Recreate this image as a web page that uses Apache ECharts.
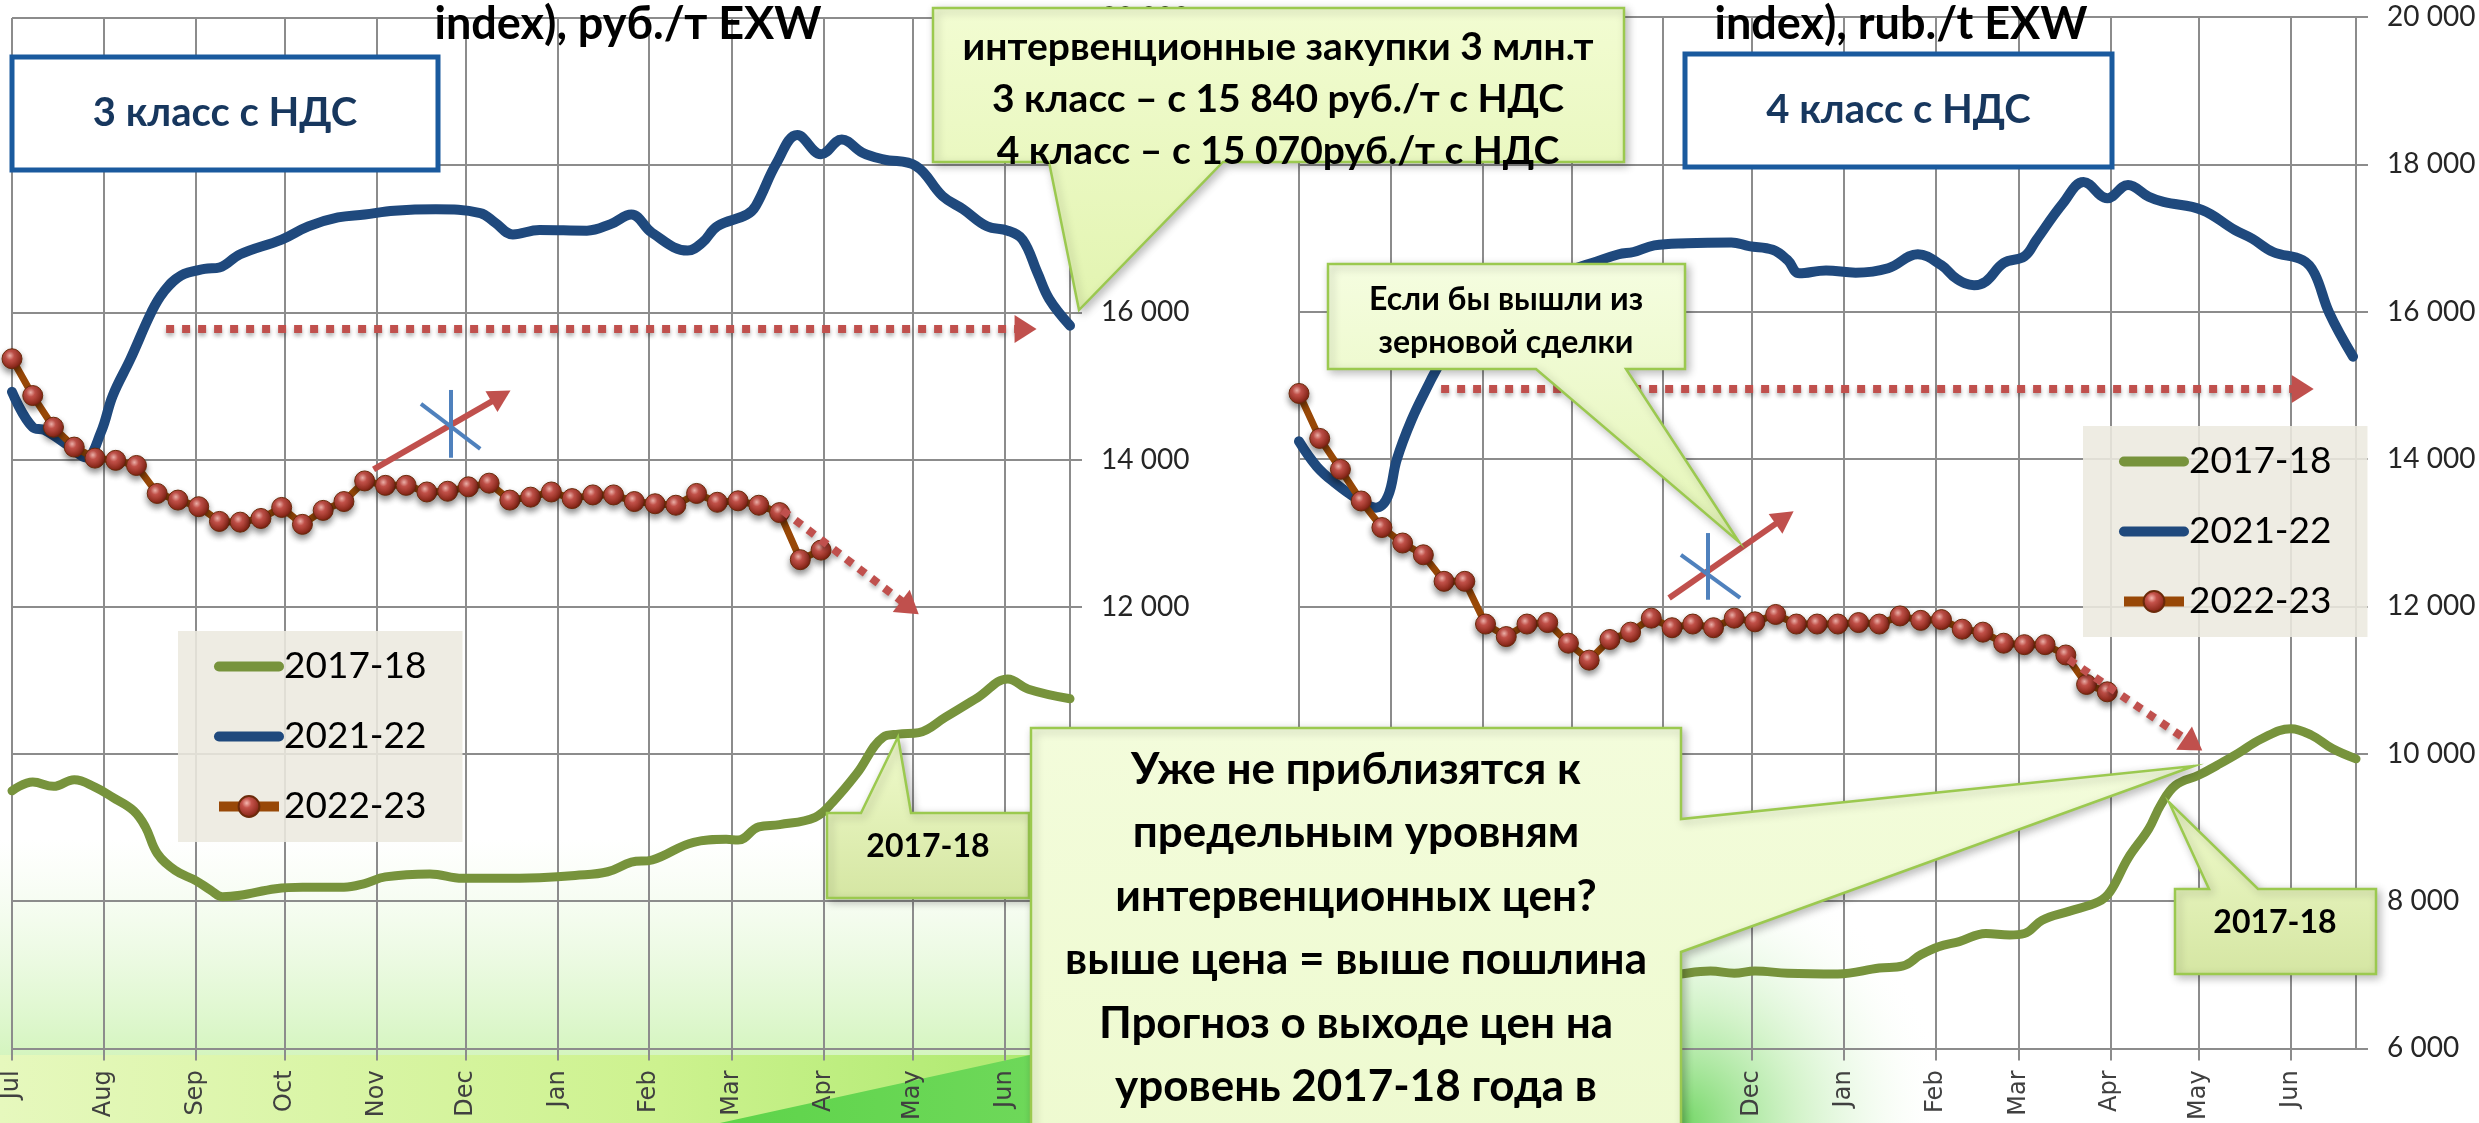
<!DOCTYPE html>
<html>
<head>
<meta charset="utf-8">
<script src="https://cdn.jsdelivr.net/npm/echarts@6/dist/echarts.min.js"></script>
<style>
html, body { margin: 0; padding: 0; background: #fff; }
#main { width: 2479px; height: 1123px; }
</style>
</head>
<body>
<div id="main"></div>
<script>
// дни сезона: 1 июля 2022 - 23 июня 2023
var days = [];
(function () {
    var t0 = Date.UTC(2022, 6, 1);
    for (var i = 0; i < 358; i++) {
        days.push(new Date(t0 + i * 86400000).toISOString().slice(0, 10));
    }
})();
var monthLabels = ['Jan', 'Feb', 'Mar', 'Apr', 'May', 'Jun', 'Jul', 'Aug', 'Sep', 'Oct', 'Nov', 'Dec'];

// 3 класс: [день сезона, руб./т]
var green3 = [[0,9500],[7,9620],[14,9560],[21,9650],[28,9550],[34,9410],[41,9230],[45,9010],[49,8650],[55,8420],[62,8280],[67,8150],[71,8060],[77,8080],[89,8170],[98,8190],[112,8190],[119,8240],[126,8330],[141,8370],[152,8310],[164,8310],[178,8320],[190,8350],[201,8400],[209,8530],[216,8560],[230,8800],[241,8840],[245,8830],[252,9010],[259,9040],[271,9140],[277,9350],[285,9730],[294,10230],[299,10270],[306,10290],[315,10500],[326,10770],[336,11020],[343,10880],[357,10750]];
var blue3 = [[0,14920],[7,14440],[11,14400],[19,14190],[25,14030],[30,14370],[34,14870],[40,15370],[47,16000],[51,16270],[57,16500],[65,16590],[70,16610],[77,16790],[91,16990],[100,17170],[110,17290],[119,17330],[129,17380],[143,17400],[158,17350],[163,17220],[169,17060],[178,17120],[194,17110],[202,17200],[209,17330],[216,17080],[228,16840],[233,16950],[238,17170],[248,17330],[251,17450],[258,18030],[265,18410],[273,18150],[280,18350],[287,18170],[294,18080],[305,17990],[314,17580],[321,17400],[329,17170],[336,17110],[341,16990],[346,16540],[350,16180],[357,15820]];
// 2022-23 - еженедельно с 1 июля
var brown3 = [15370,14870,14440,14170,14020,13990,13920,13540,13450,13360,13160,13150,13200,13350,13120,13310,13430,13710,13650,13650,13560,13570,13630,13680,13450,13490,13560,13470,13520,13520,13430,13400,13380,13540,13420,13440,13380,13280,12640,12770];

// 4 класс
var green4 = [[0,8250],[7,8350],[14,8300],[21,8380],[28,8280],[34,8150],[41,7980],[45,7760],[49,7420],[55,7180],[62,7040],[67,6920],[71,6850],[77,6870],[89,6940],[98,6960],[112,6950],[119,6970],[127,7000],[139,7050],[147,7020],[154,7050],[165,7020],[182,7010],[196,7090],[204,7120],[210,7270],[216,7380],[223,7450],[232,7560],[240,7540],[245,7560],[251,7740],[260,7860],[270,7990],[274,8130],[280,8580],[287,8980],[291,9300],[296,9570],[304,9710],[310,9840],[317,10000],[325,10200],[335,10340],[342,10250],[349,10070],[357,9930]];
var blue4 = [[0,14240],[6,13900],[12,13680],[20,13450],[26,13340],[30,13490],[33,13990],[38,14530],[44,15030],[47,15260],[54,15800],[60,16050],[67,16200],[77,16350],[88,16520],[99,16660],[108,16780],[113,16810],[120,16900],[131,16930],[146,16940],[152,16890],[160,16840],[165,16700],[169,16520],[178,16560],[188,16530],[199,16590],[209,16780],[217,16630],[222,16450],[228,16360],[232,16410],[238,16660],[245,16750],[249,16970],[258,17470],[265,17760],[273,17540],[280,17720],[287,17560],[292,17490],[305,17380],[316,17110],[322,16990],[329,16810],[339,16700],[343,16520],[348,15980],[356,15390]];
var brown4 = [14890,14280,13860,13430,13070,12860,12700,12340,12340,11760,11590,11760,11780,11500,11270,11550,11650,11840,11710,11760,11710,11840,11790,11890,11760,11760,11760,11780,11760,11870,11810,11820,11690,11650,11500,11480,11480,11340,10940,10840];

var seriesNames = ['2017-18', '2021-22', '2022-23'];
var colGreen = '#77933c', colBlue = '#1f497d', colBrown = '#984807', colRed = '#c0504d', colX = '#4f81bd';

function fmtThousands(v) {
    return String(v).replace(/\B(?=(\d{3})+(?!\d))/g, ' ');
}
function isMonthStart(i, v) {
    return v.slice(8) === '01';
}

var sphere = {
    type: 'radial', x: 0.4, y: 0.35, r: 0.7,
    colorStops: [
        {offset: 0, color: '#f6b8b0'},
        {offset: 0.3, color: '#c4524a'},
        {offset: 0.8, color: '#8e2a1c'},
        {offset: 1, color: '#5e1a0c'}
    ]
};

function smoothLine(name, data, gi, color, width) {
    return {
        name: name, type: 'line', xAxisIndex: gi, yAxisIndex: gi,
        data: data, smooth: 0.4, symbol: 'none',
        lineStyle: {color: color, width: width, cap: 'round', join: 'round'},
        itemStyle: {color: color},
        z: 3
    };
}

function arrowLines(a) {
    // горизонтальная и диагональная пунктирные, сплошная стрелка, перечеркивание
    var solid = {type: 'solid', width: 6, color: colRed, shadowBlur: 0, shadowOffsetY: 0};
    var cross = {type: 'solid', width: 4, color: colX, shadowBlur: 0, shadowOffsetY: 0};
    return {
        silent: true,
        symbol: ['none', 'triangle'],
        symbolSize: [28, 22],
        label: {show: false},
        emphasis: {disabled: true},
        itemStyle: {color: colRed},
        lineStyle: {color: colRed, width: 8, type: [8, 8], shadowBlur: 4, shadowColor: 'rgba(0,0,0,0.3)', shadowOffsetY: 3},
        data: [
            [{coord: a.h[0]}, {coord: a.h[1]}],
            [{coord: a.d[0]}, {coord: a.d[1]}],
            [{coord: a.s[0], lineStyle: solid}, {coord: a.s[1], symbolSize: [24, 22]}],
            [{coord: a.xv[0], lineStyle: cross}, {coord: a.xv[1], symbol: 'none'}],
            [{coord: a.xd[0], lineStyle: cross}, {coord: a.xd[1], symbol: 'none'}]
        ]
    };
}

function beadLine(name, weekly, gi, arrows) {
    return {
        name: name, type: 'line', xAxisIndex: gi, yAxisIndex: gi,
        data: weekly.map(function (v, i) { return [i * 7, v]; }),
        symbol: 'circle', symbolSize: 20, showSymbol: true, showAllSymbol: true,
        lineStyle: {color: colBrown, width: 7},
        itemStyle: {color: sphere, borderColor: '#6b2a0a', borderWidth: 1, shadowBlur: 6, shadowColor: 'rgba(0,0,0,0.45)', shadowOffsetY: 4},
        markLine: arrowLines(arrows),
        z: 4
    };
}

function xAxisFor(gi) {
    return {
        type: 'category', gridIndex: gi, data: days, boundaryGap: false,
        axisLine: {show: true, lineStyle: {color: '#8c8c8c', width: 2}},
        axisTick: {show: true, interval: isMonthStart, length: 12, lineStyle: {color: '#8c8c8c', width: 2}},
        splitLine: {show: true, interval: isMonthStart, lineStyle: {color: '#8c8c8c', width: 2}},
        axisLabel: {
            interval: isMonthStart, rotate: 90, margin: 22,
            fontFamily: 'DejaVu Sans', fontSize: 24, color: '#404040',
            formatter: function (v) { return monthLabels[+v.slice(5, 7) - 1]; }
        }
    };
}
function yAxisFor(gi) {
    return {
        type: 'value', gridIndex: gi, position: 'right',
        min: 6000, max: 20000, interval: 2000,
        axisLine: {show: true, lineStyle: {color: '#8c8c8c', width: 2}},
        axisTick: {show: true, length: 12, lineStyle: {color: '#8c8c8c', width: 2}},
        splitLine: {show: true, lineStyle: {color: '#8c8c8c', width: 2}},
        axisLabel: {margin: 31, fontFamily: 'Lato', fontSize: 28, color: '#262626', formatter: fmtThousands}
    };
}

function legendAt(left, top) {
    return {
        orient: 'vertical', left: left, top: top,
        padding: [17, 36, 17, 36], itemGap: 33,
        itemWidth: 60, itemHeight: 26,
        backgroundColor: 'rgba(236,233,223,0.88)',
        textStyle: {fontFamily: 'Lato', fontSize: 37, color: '#000'},
        data: [
            {name: seriesNames[0], itemStyle: {opacity: 0}, lineStyle: {width: 10, cap: 'round'}},
            {name: seriesNames[1], itemStyle: {opacity: 0}, lineStyle: {width: 10, cap: 'round'}},
            {name: seriesNames[2], lineStyle: {width: 10}}
        ]
    };
}

// выноски
var LG = echarts.graphic.LinearGradient;
var calloutStroke = '#9bc94f';
var boxShadow = {shadowBlur: 8, shadowColor: 'rgba(0,0,0,0.25)', shadowOffsetX: 3, shadowOffsetY: 3};
function callout(points, top, bottom) {
    return {
        type: 'polygon', z: 50,
        shape: {points: points},
        style: Object.assign({
            fill: new LG(0, 0, 0, 1, [{offset: 0, color: top}, {offset: 1, color: bottom}]),
            stroke: calloutStroke, lineWidth: 2.5
        }, boxShadow)
    };
}
function label(text, x, y, size, lh, color) {
    return {
        type: 'text', z: 51,
        style: {text: text, x: x, y: y, align: 'center', verticalAlign: 'top',
            font: 'bold ' + size + 'px Lato', lineHeight: lh, fill: color || '#000'}
    };
}
function classBox(x, y, w, h, text) {
    return [
        {type: 'rect', z: 50, shape: {x: x, y: y, width: w, height: h},
            style: {fill: '#fff', stroke: '#1a5a9e', lineWidth: 5}},
        {type: 'text', z: 51, style: {text: text, x: x + w / 2, y: y + h / 2, align: 'center', verticalAlign: 'middle',
            font: 'bold 40px Lato', fill: '#17375e'}}
    ];
}

var background = [
    {type: 'rect', z: -10, shape: {x: 0, y: 840, width: 1100, height: 215},
        style: {fill: new LG(0, 0, 0, 1, [{offset: 0, color: 'rgba(225,247,210,0)'}, {offset: 1, color: 'rgba(205,243,180,0.85)'}])}},
    {type: 'rect', z: -10, shape: {x: 0, y: 1055, width: 1100, height: 68},
        style: {fill: new LG(0, 0, 1, 0, [{offset: 0, color: '#e6f8bd'}, {offset: 0.6, color: '#cdf28f'}, {offset: 1, color: '#a8e86a'}])}},
    {type: 'polygon', z: -9, shape: {points: [[720, 1123], [1030, 1055], [1681, 1020], [1681, 1123]]},
        style: {fill: new LG(0, 0, 1, 0, [{offset: 0, color: '#5ed44a'}, {offset: 1, color: '#8fe07a'}])}},
    {type: 'rect', z: -10, shape: {x: 1681, y: 880, width: 798, height: 243},
        style: {fill: new echarts.graphic.RadialGradient(0, 1, 1.1, [{offset: 0, color: 'rgba(100,210,85,0.9)'}, {offset: 0.45, color: 'rgba(185,236,170,0.6)'}, {offset: 0.8, color: 'rgba(235,250,230,0.3)'}, {offset: 1, color: 'rgba(255,255,255,0)'}])}}
];

var overlays = [].concat(
    [
        {type: 'text', z: 51, style: {text: 'index), руб./т EXW', x: 628, y: 24, align: 'center', verticalAlign: 'middle', font: 'bold 45px Lato', fill: '#000'}},
        {type: 'text', z: 51, style: {text: 'index), rub./t EXW', x: 1901, y: 24, align: 'center', verticalAlign: 'middle', font: 'bold 45px Lato', fill: '#000'}}
    ],
    classBox(12, 57, 426, 113, '3 класс с НДС'),
    classBox(1685, 54, 427, 113, '4 класс с НДС'),
    [
        callout([[933, 8], [1624, 8], [1624, 162], [1223, 162], [1079, 310], [1049, 162], [933, 162]], '#f2fcd2', '#e2f4b0'),
        label('интервенционные закупки 3 млн.т\n3 класс – с 15 840 руб./т с НДС\n4 класс – с 15 070руб./т с НДС', 1278, 21, 39, 52),
        callout([[1328, 264], [1685, 264], [1685, 369], [1626, 369], [1739, 542], [1536, 369], [1328, 369]], '#f5fde0', '#e4f5b6'),
        label('Если бы вышли из\nзерновой сделки', 1506, 278, 32, 43),
        callout([[827, 813], [861, 813], [898, 737], [911, 813], [1029, 813], [1029, 898], [827, 898]], '#f0fbcc', '#d5e6a3'),
        label('2017-18', 928, 829, 32, 36),
        callout([[2175, 889], [2209, 889], [2169, 802], [2258, 889], [2376, 889], [2376, 974], [2175, 974]], '#f0fbcc', '#d5e6a3'),
        label('2017-18', 2275, 905, 32, 36),
        callout([[1031, 728], [1681, 728], [1681, 819], [2194, 766], [1681, 952], [1681, 1135], [1031, 1135]], '#f3fcdb', '#eefad0'),
        label('Уже не приблизятся к\nпредельным уровням\nинтервенционных цен?\nвыше цена = выше пошлина\nПрогноз о выходе цен на\nуровень 2017-18 года в\nначале сезона не', 1356, 738, 44, 63.5)
    ]
);

var chart = echarts.init(document.getElementById('main'), null, {renderer: 'canvas'});
chart.setOption({
    animation: false,
    backgroundColor: '#ffffff',
    textStyle: {fontFamily: 'Lato'},
    grid: [
        {left: 12, top: 18, width: 1058, height: 1032, containLabel: false},
        {left: 1299, top: 17, width: 1057, height: 1033, containLabel: false}
    ],
    xAxis: [xAxisFor(0), xAxisFor(1)],
    yAxis: [yAxisFor(0), yAxisFor(1)],
    legend: [legendAt(178, 631), legendAt(2083, 426)],
    series: [
        smoothLine(seriesNames[0], green3, 0, colGreen, 9),
        smoothLine(seriesNames[1], blue3, 0, colBlue, 10),
        beadLine(seriesNames[2], brown3, 0, {
            h: [[52, 15775], [342, 15775]],
            d: [[260, 13310], [303, 11990]],
            s: [[122, 13866], [165, 14863]],
            xv: [[148, 14946], [148, 14025]],
            xd: [[138, 14756], [158, 14146]]
        }),
        smoothLine(seriesNames[0], green4, 1, colGreen, 9),
        smoothLine(seriesNames[1], blue4, 1, colBlue, 10),
        beadLine(seriesNames[2], brown4, 1, {
            h: [[48, 14950], [339, 14950]],
            d: [[260, 11278], [302, 10128]],
            s: [[125, 12114], [164, 13205]],
            xv: [[138, 12995], [138, 12090]],
            xd: [[129, 12700], [149, 12116]]
        })
    ],
    graphic: {elements: background.concat(overlays)}
});
</script>
</body>
</html>
